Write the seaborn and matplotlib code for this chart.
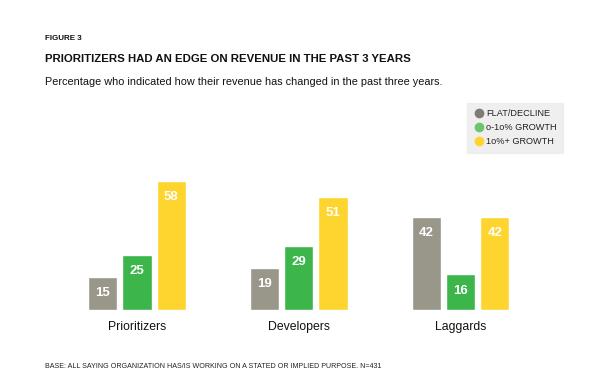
import matplotlib
matplotlib.use("Agg")
import matplotlib.pyplot as plt
import seaborn as sns
import pandas as pd
from matplotlib.lines import Line2D

categories = ["Prioritizers", "Developers", "Laggards"]
series_names = ["FLAT/DECLINE", "0-10% GROWTH", "10%+ GROWTH"]
legend_labels = ["FLAT/DECLINE", "o-1o% GROWTH", "1o%+ GROWTH"]
flat_decline = [15, 19, 42]
growth_0_10 = [25, 29, 16]
growth_10_plus = [58, 51, 42]

colors = ["#99968a", "#3cb54b", "#fed42f"]
legend_colors = ["#7f7c74", "#6cc56c", "#fed42f"]

rows = []
for name, vals in zip(series_names, [flat_decline, growth_0_10, growth_10_plus]):
    for c, v in zip(categories, vals):
        rows.append({"category": c, "series": name, "value": v})
df = pd.DataFrame(rows)

sns.set_style("white")
plt.rcParams["font.family"] = ["Liberation Sans", "DejaVu Sans"]

W, H = 611, 381
fig = plt.figure(figsize=(W / 100, H / 100), dpi=100)
fig.patch.set_facecolor("white")

ax = fig.add_axes([56 / W, 71 / H, 485.5 / W, 155.4 / H])

sns.barplot(data=df, x="category", y="value", hue="series", order=categories,
            hue_order=series_names, palette=colors, width=0.634, gap=0.147,
            saturation=1, legend=False, ax=ax, errorbar=None)

ax.set_xlim(-0.5, 2.5)
ax.set_ylim(0, 70)
sns.despine(ax=ax, left=True, bottom=True)
ax.set_yticks([])
ax.set_xlabel("")
ax.set_ylabel("")
ax.tick_params(axis="x", length=0, pad=8, labelsize=8.8, labelcolor="#111111")

for cont in ax.containers:
    ax.bar_label(cont, padding=-16, color="white", fontweight="heavy", fontsize=9.5)

fig.text(45 / W, 1 - 39 / H, "FIGURE 3", fontsize=5.8, fontweight="bold",
         color="#111111", va="center", ha="left")
fig.text(45 / W, 1 - 59 / H, "PRIORITIZERS HAD AN EDGE ON REVENUE IN THE PAST 3 YEARS",
         fontsize=8.2, fontweight="bold", color="#111111", va="center", ha="left")
fig.text(45 / W, 1 - 82 / H,
         "Percentage who indicated how their revenue has changed in the past three years.",
         fontsize=7.8, color="#111111", va="center", ha="left")
fig.text(45 / W, 1 - 366 / H,
         "BASE: ALL SAYING ORGANIZATION HAS/IS WORKING ON A STATED OR IMPLIED PURPOSE. N=431",
         fontsize=5.1, color="#222222", va="center", ha="left")

handles = [Line2D([0], [0], marker="o", linestyle="", markersize=6,
                  markerfacecolor=c, markeredgecolor=c) for c in legend_colors]
leg = fig.legend(handles, legend_labels, loc="upper left",
                 bbox_to_anchor=(467 / W, 1 - 103 / H), frameon=True,
                 fontsize=6.6, handletextpad=0.15, handlelength=1.2,
                 labelspacing=0.55, borderpad=0.7, borderaxespad=0,
                 fancybox=False)
leg.get_frame().set_facecolor("#ececec")
leg.get_frame().set_edgecolor("#ececec")
for t in leg.get_texts():
    t.set_color("#222222")

fig.savefig("out.png", dpi=100, facecolor="white")
